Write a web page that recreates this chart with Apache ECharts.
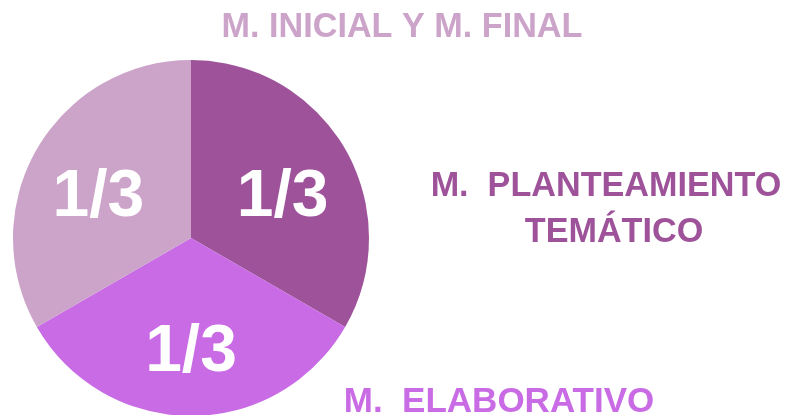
<!DOCTYPE html>
<html>
<head>
<meta charset="utf-8">
<script src="https://cdn.jsdelivr.net/npm/echarts@6/dist/echarts.min.js"></script>
<style>
  html, body { margin: 0; padding: 0; background: #fff; }
  #chart { width: 794px; height: 415px; }
</style>
</head>
<body>
<div id="chart"></div>
<script>
// datos del gráfico
const categories = ['M.  PLANTEAMIENTO\nTEMÁTICO', 'M.  ELABORATIVO', 'M. INICIAL Y M. FINAL'];
const values = [1, 1, 1];
const shareLabels = ['1/3', '1/3', '1/3'];
const colors = ['#9d5299', '#c96be5', '#cca4ca'];

const FONT = '"Liberation Sans", Arial, sans-serif';

// posiciones y tamaños de los textos exteriores
const titlePos = [
  { left: 606, top: 210, size: 34.2 },
  { left: 499, top: 402, size: 35 },
  { left: 402, top: 28, size: 34.2 }
];
// ajuste de las etiquetas 1/3 dentro de cada sector
const labelOffsets = [[12, 6], [0, 23], [-13, 6]];

const chart = echarts.init(document.getElementById('chart'));

const option = {
  animation: false,
  backgroundColor: '#ffffff',
  title: categories.map((name, i) => {
    const lines = name.split('\n');
    // segunda línea un poco desplazada a la derecha, como en el original
    const text = lines.map((l, k) => (k === 0 ? '{a|' : '{b|') + l + '}').join('\n');
    const base = {
      color: colors[i],
      fontFamily: FONT,
      fontWeight: 'bold',
      fontSize: titlePos[i].size,
      lineHeight: 46
    };
    return {
      text: text,
      left: titlePos[i].left,
      top: titlePos[i].top,
      padding: 0,
      textAlign: 'center',
      textVerticalAlign: 'middle',
      textStyle: Object.assign({}, base, {
        rich: {
          a: Object.assign({}, base),
          b: Object.assign({}, base, { padding: [0, 0, 0, 16] })
        }
      })
    };
  }),
  series: [
    {
      type: 'pie',
      center: [191, 238],
      radius: 178,
      startAngle: 90,
      clockwise: true,
      silent: true,
      emphasis: { disabled: true },
      itemStyle: { borderWidth: 0 },
      label: {
        show: true,
        position: 'inside',
        color: '#ffffff',
        fontFamily: FONT,
        fontWeight: 'bold',
        fontSize: 66,
        formatter: p => shareLabels[p.dataIndex]
      },
      labelLine: { show: false },
      data: categories.map((name, i) => ({
        name: name,
        value: values[i],
        itemStyle: { color: colors[i] },
        label: { offset: labelOffsets[i] }
      }))
    }
  ]
};

chart.setOption(option);
window.addEventListener('resize', () => chart.resize());
</script>
</body>
</html>
